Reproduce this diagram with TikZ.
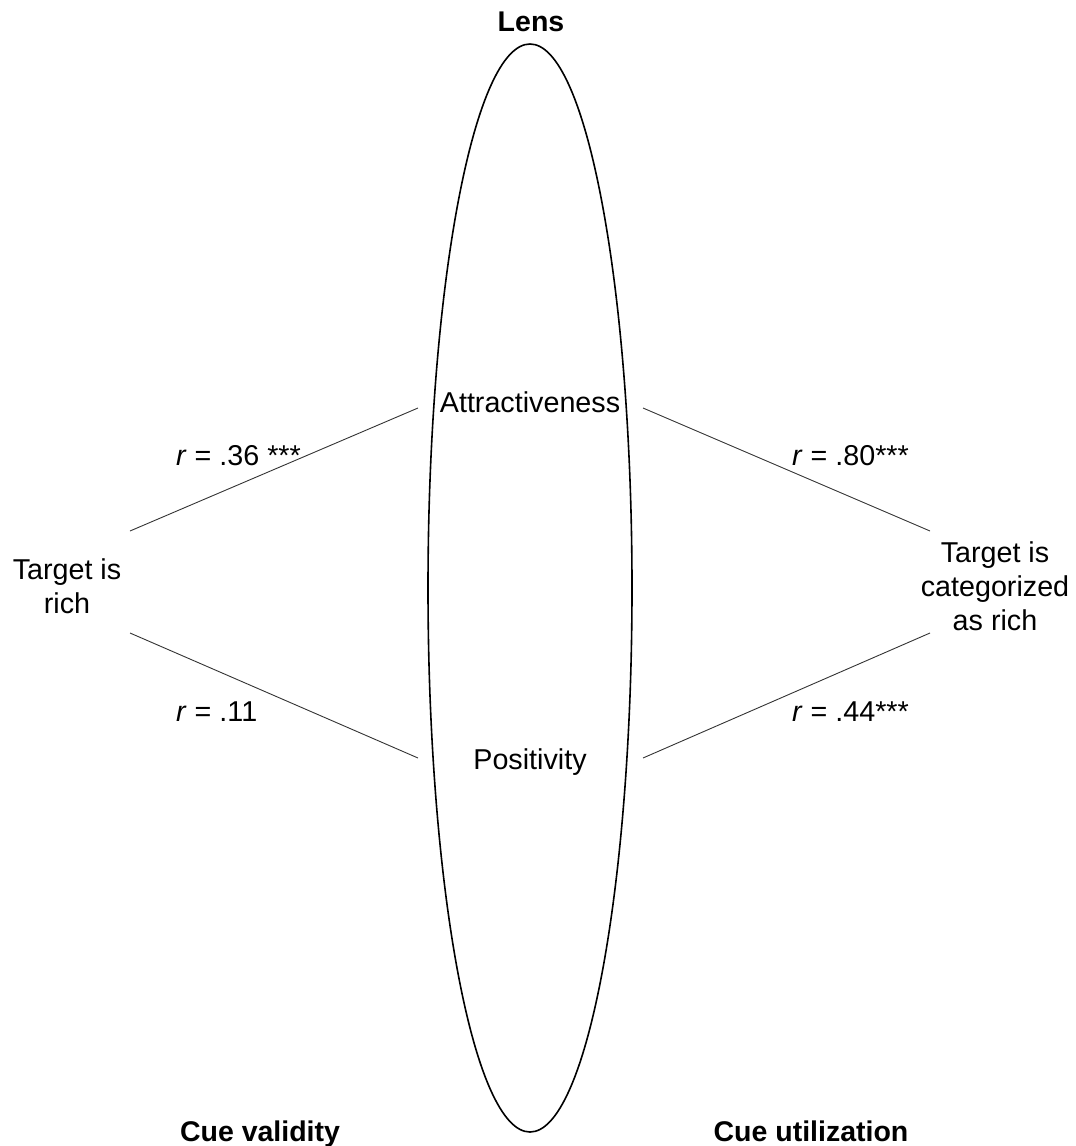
\documentclass[tikz,border=0pt]{standalone}
\usepackage{fontspec}
\setmainfont{Liberation Sans}
\usetikzlibrary{shapes.geometric}
\tikzset{
  lbl/.style   = {inner sep=0pt, align=center, font=\fontsize{28.7}{34}\selectfont},
  head/.style  = {inner sep=0pt, font=\fontsize{28.5}{34}\selectfont\bfseries},
  coef/.style  = {inner sep=0pt, anchor=west, font=\fontsize{28.7}{34}\selectfont},
  lensbox/.style = {ellipse, draw=black, line width=1.6pt, inner sep=0pt,
                    minimum width=204pt, minimum height=1088pt},
  link/.style  = {draw=black!80, line width=0.9pt},
}
\begin{document}
\begin{tikzpicture}[x=1pt, y=-1pt]
  \useasboundingbox (0,0) rectangle (1076,1146);

  \node[lensbox] (lens) at (530,588) {};
  \node[head] (lenstitle) at (531,22) {Lens};

  \node[lbl] (attr) at (530,402) {Attractiveness};
  \node[lbl] (pos) at (530,762) {Positivity};
  \node[lbl] (rich) at (67,586) {Target is\\rich};
  \node[lbl] (cat) at (995,586) {Target is\\categorized\\as rich};

  % line ends
  \coordinate (rich-a) at (130,531);
  \coordinate (rich-b) at (130,633);
  \coordinate (attr-w) at (418,408);
  \coordinate (pos-w) at (418,758);
  \coordinate (attr-e) at (643,408);
  \coordinate (pos-e) at (643,758);
  \coordinate (cat-a) at (930,531);
  \coordinate (cat-b) at (930,633);

  \draw[link] (rich-a) -- (attr-w);
  \draw[link] (rich-b) -- (pos-w);
  \draw[link] (attr-e) -- (cat-a);
  \draw[link] (pos-e) -- (cat-b);

  \node[coef] (r1) at (176,456) {\textit{r} = .36 ***};
  \node[coef] (r2) at (176,712) {\textit{r} = .11};
  \node[coef] (r3) at (792,456) {\textit{r} = .80***};
  \node[coef] (r4) at (792,712) {\textit{r} = .44***};

  \node[head, anchor=base] (valid) at (260,1141) {Cue validity};
  \node[head, anchor=base] (util) at (811,1141) {Cue utilization};
\end{tikzpicture}
\end{document}
